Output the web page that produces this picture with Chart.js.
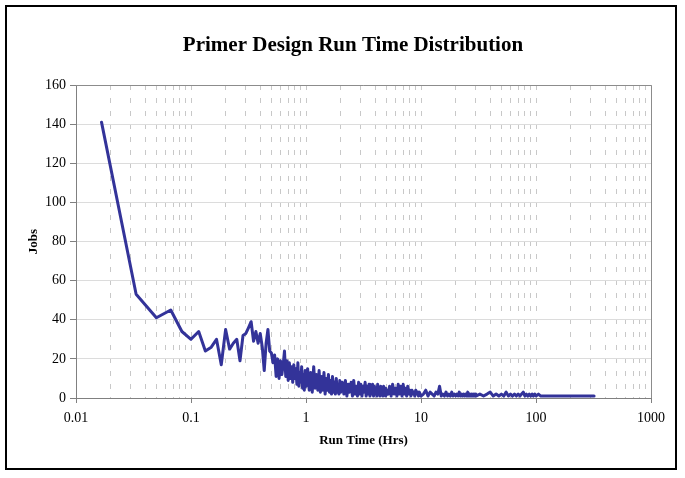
<!DOCTYPE html>
<html>
<head>
<meta charset="utf-8">
<script src="https://cdn.jsdelivr.net/npm/chart.js@4.4.0/dist/chart.umd.min.js"></script>
<style>
  html, body { margin: 0; padding: 0; background: #fff; }
  #wrap { width: 685px; height: 478px; }
</style>
</head>
<body>
<div id="wrap"><canvas id="runTimeChart" width="685" height="478"></canvas></div>
<script>
const chartTitle = 'Primer Design Run Time Distribution';
const xAxisTitle = 'Run Time (Hrs)';
const yAxisTitle = 'Jobs';

// run time of each bucket, in minutes (plotted in hours)
const runMinutes = [
    1, 2, 3, 4, 5, 6, 7, 8, 9, 10, 11, 12, 13, 14, 15, 16, 17, 18, 19, 20,
    21, 22, 23, 24, 25, 26, 27, 28, 29, 30, 31, 32, 33, 34, 35, 36, 37, 38, 39, 40,
    41, 42, 43, 44, 45, 46, 47, 48, 49, 50, 51, 52, 53, 54, 55, 56, 57, 58, 59, 60,
    62, 64, 66, 68, 70, 72, 74, 76, 78, 80, 82, 84, 86, 88, 90,
    92, 94, 96, 98, 100, 102, 104, 106, 108, 110, 112, 114, 116, 118, 120,
    124, 128, 132, 136, 140, 144, 148, 152, 156, 160, 164, 168, 172, 176, 180,
    184, 188, 192, 196, 200, 204, 208, 212, 216, 220, 224, 228, 232, 236, 240,
    244, 248, 252, 256, 260, 264, 268, 272, 276, 280, 284, 288, 292, 296, 300,
    310, 320, 330, 340, 350, 360, 370, 380, 390, 400, 410, 420, 430, 440, 450,
    460, 470, 480, 490, 500, 510, 520, 530, 540, 550, 560, 570, 580, 590, 600,
    630, 660, 690, 720, 750, 780, 810, 840, 870, 900, 930, 960, 990, 1020, 1050, 1080, 1110, 1140, 1170, 1200,
    1230, 1260, 1290, 1320, 1350, 1380, 1410, 1440, 1470, 1500, 1530, 1560, 1590, 1620, 1650, 1680, 1710, 1740, 1770, 1800,
    1950, 2100, 2250, 2400, 2550, 2700, 2850, 3000, 3150, 3300, 3450, 3600, 3750, 3900, 4050,
    4200, 4350, 4500, 4650, 4800, 4950, 5100, 5250, 5400, 5550, 5700, 5850, 6000, 6300, 6600,
    7000, 9000, 12000, 15000, 19200
];

// number of jobs per bucket
const jobCounts = [
    141, 53, 41, 45, 34, 30, 34, 24, 26, 30, 17, 35, 25, 28, 30, 19, 32, 33, 36, 39,
    29, 34, 28, 33, 26, 14, 28, 35, 24, 23, 18, 22, 11, 20, 10, 19, 12, 17, 24, 11,
    19, 9, 18, 10, 16, 8, 17, 10, 15, 7, 18, 6, 13, 8, 16, 5, 12, 4, 14, 6,
    15, 4, 13, 3, 16, 5, 12, 4, 14, 3, 11, 4, 13, 2, 10,
    4, 12, 3, 9, 2, 11, 3, 8, 2, 10, 3, 7, 2, 9, 3,
    8, 2, 9, 1, 7, 3, 8, 1, 9, 2, 6, 1, 8, 2, 7,
    1, 6, 3, 8, 1, 6, 2, 7, 1, 5, 2, 7, 1, 6, 2,
    5, 1, 7, 2, 5, 1, 6, 2, 4, 1, 6, 2, 5, 1, 4,
    2, 6, 1, 7, 2, 5, 1, 7, 2, 6, 1, 7, 2, 5, 1,
    6, 2, 4, 1, 4, 2, 3, 1, 4, 2, 3, 1, 3, 2, 1,
    2, 4, 1, 3, 2, 1, 3, 2, 6, 1, 2, 1, 3, 1, 2, 1, 3, 1, 2, 1,
    2, 1, 3, 1, 2, 1, 2, 1, 2, 1, 3, 1, 2, 1, 2, 1, 2, 1, 2, 1,
    2, 1, 2, 3, 1, 2, 1, 2, 1, 3, 1, 2, 1, 2, 1,
    2, 1, 2, 3, 1, 2, 1, 2, 1, 2, 1, 2, 1, 2, 1,
    1, 1, 1, 1, 1
];

const xDecades = [0.01, 0.1, 1, 10, 100, 1000];
const xTickLabels = ['0.01', '0.1', '1', '10', '100', '1000'];
const yMax = 160;
const yStep = 20;

const serif = '"Liberation Serif", "Times New Roman", serif';

const framePlugin = {
    id: 'frame',
    beforeDraw(chart) {
        const ctx = chart.ctx;
        ctx.save();
        ctx.fillStyle = '#fff';
        ctx.fillRect(0, 0, chart.width, chart.height);
        ctx.restore();
    },
    afterDraw(chart) {
        const { ctx, chartArea: a } = chart;
        ctx.save();
        // plot area top/right edges
        ctx.strokeStyle = '#8c8c8c';
        ctx.lineWidth = 1;
        ctx.beginPath();
        ctx.moveTo(a.left, a.top + 0.5);
        ctx.lineTo(a.right + 0.5, a.top + 0.5);
        ctx.lineTo(a.right + 0.5, a.bottom);
        ctx.stroke();
        // outer frame
        ctx.strokeStyle = '#000';
        ctx.lineWidth = 2;
        ctx.strokeRect(6, 6, 670, 463);
        // title
        ctx.fillStyle = '#000';
        ctx.font = 'bold 21px ' + serif;
        ctx.textAlign = 'center';
        ctx.textBaseline = 'middle';
        ctx.fillText(chartTitle, 353, 46);
        ctx.restore();
    }
};

const isDecade = v => xDecades.some(d => Math.abs(v / d - 1) < 1e-6);

new Chart(document.getElementById('runTimeChart'), {
    type: 'line',
    data: {
        datasets: [{
            label: 'Jobs',
            data: runMinutes.map((m, i) => ({ x: m / 60, y: jobCounts[i] })),
            borderColor: '#333399',
            borderWidth: 3,
            borderJoinStyle: 'round',
            borderCapStyle: 'round',
            pointRadius: 0,
            tension: 0,
            fill: false
        }]
    },
    options: {
        responsive: false,
        devicePixelRatio: 1,
        animation: false,
        layout: { padding: { left: 0, top: 85, right: 34, bottom: 0 } },
        plugins: {
            legend: { display: false },
            tooltip: { enabled: false },
            title: { display: false }
        },
        scales: {
            x: {
                type: 'logarithmic',
                min: 0.01,
                max: 1000,
                afterFit: scale => { scale.height = 80; },
                afterBuildTicks: scale => {
                    const ticks = [];
                    xDecades.forEach((d, i) => {
                        const n = i === xDecades.length - 1 ? 1 : 9;
                        for (let k = 1; k <= n; k++) {
                            ticks.push({ value: k * d, major: k === 1 });
                        }
                    });
                    scale.ticks = ticks;
                },
                ticks: {
                    autoSkip: false,
                    maxRotation: 0,
                    color: '#000',
                    padding: 7,
                    font: { family: serif, size: 14 },
                    callback: v => {
                        const i = xDecades.findIndex(d => Math.abs(v / d - 1) < 1e-6);
                        return i >= 0 ? xTickLabels[i] : '';
                    }
                },
                grid: {
                    color: '#c8c8c8',
                    lineWidth: 1,
                    tickLength: 5,
                    tickColor: c => (c.tick && isDecade(c.tick.value)) ? '#808080' : 'rgba(0,0,0,0)'
                },
                border: { color: '#808080', width: 1, dash: [5, 8] },
                title: {
                    display: true,
                    text: xAxisTitle,
                    color: '#000',
                    font: { family: serif, size: 13, weight: 'bold' },
                    padding: { top: 0, bottom: 30 }
                }
            },
            y: {
                min: 0,
                max: yMax,
                afterFit: scale => { scale.width = 76; },
                ticks: {
                    stepSize: yStep,
                    color: '#000',
                    padding: 4,
                    font: { family: serif, size: 14 }
                },
                grid: {
                    color: '#dcdcdc',
                    lineWidth: 1,
                    tickLength: 6,
                    tickColor: '#808080'
                },
                border: { color: '#808080', width: 1 },
                title: {
                    display: true,
                    text: yAxisTitle,
                    color: '#000',
                    font: { family: serif, size: 13, weight: 'bold' },
                    padding: { top: 26, bottom: 0 }
                }
            }
        }
    },
    plugins: [framePlugin]
});
</script>
</body>
</html>
